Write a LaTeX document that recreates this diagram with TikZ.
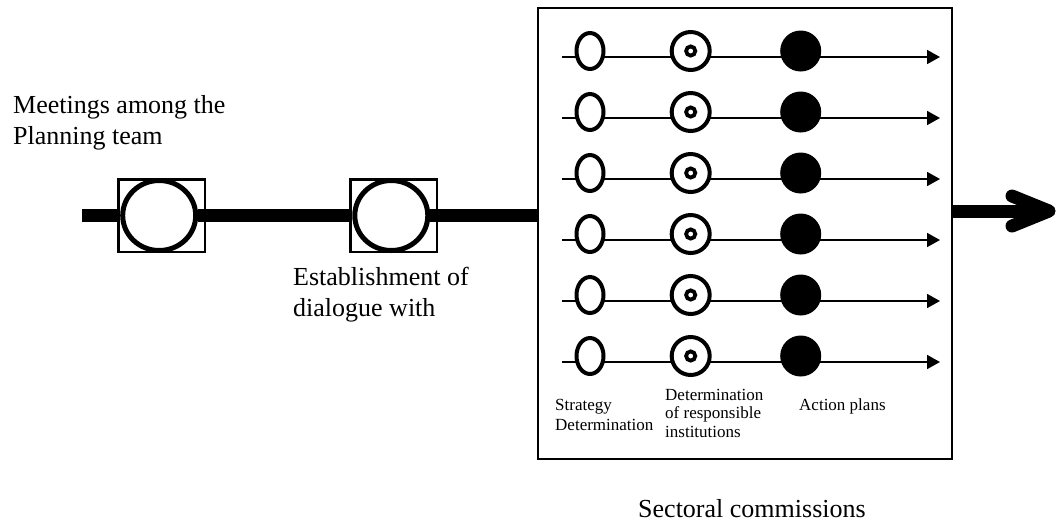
\documentclass[tikz,border=0pt]{standalone}
\usepackage{fontspec}
\setmainfont{Liberation Serif}
\usetikzlibrary{arrows.meta,shapes.geometric,backgrounds}

\begin{document}
\begin{tikzpicture}[x=1pt,y=-1pt,
  bigtext/.style={font=\fontsize{26}{31}\selectfont, inner sep=0pt, anchor=base west},
  smalltext/.style={inner sep=0pt, anchor=base west},
  stagebox/.style={draw, line width=2.5pt, minimum width=86.5pt, minimum height=72.5pt, inner sep=0pt},
  stageoval/.style={ellipse, draw, line width=5pt, fill=white, minimum width=73pt, minimum height=70pt, inner sep=0pt},
  mainline/.style={line width=13pt},
  panelbox/.style={draw, line width=2pt, minimum width=414pt, minimum height=451pt, inner sep=0pt},
  openoval/.style={ellipse, draw, line width=4pt, fill=white, minimum width=27pt, minimum height=36pt, inner sep=0pt},
  ringouter/.style={circle, draw, line width=4pt, fill=white, minimum size=38pt, inner sep=0pt},
  ringinner/.style={circle, draw, line width=3.8pt, minimum size=9.2pt, inner sep=0pt},
  solidcirc/.style={circle, fill=black, minimum size=41pt, inner sep=0pt},
  rowline/.style={line width=1.8pt, -{Triangle[length=13pt,width=14pt]}},
  bigarrow/.style={line width=13pt, line cap=round, line join=round}
]
\useasboundingbox (0,0) rectangle (1058,523);

% planning stages on the main line
\node[stagebox] (b1) at (161.5,215.5) {};
\node[stageoval] (e1) at (159.2,215.5) {};
\node[stagebox] (b2) at (393.8,215.5) {};
\node[stageoval] (e2) at (391.3,215.5) {};

% sectoral commissions panel
\node[panelbox] (panel) at (745,233.5) {};

\coordinate (start) at (82,215.5);
\coordinate (tip) at (1049,211);

\begin{scope}[on background layer]
  \draw[mainline] (start) -- (start -| e1.west);
  \draw[mainline] (e1.east) -- (e2.west);
  \draw[mainline] (e2.east) -- (e2.east -| panel.west);
\end{scope}

% outgoing arrow
\draw[line width=13pt] (tip -| panel.east) -- ([xshift=-4pt]tip);
\draw[bigarrow] ([shift={(-37,-15)}]tip) -- (tip) -- ([shift={(-37,15)}]tip);

% six parallel commission tracks
\foreach \i in {0,...,5}{
  \pgfmathsetmacro{\ry}{57+61*\i}
  \coordinate (rs\i) at (562,\ry);
  \coordinate (re\i) at (940,\ry);
  \node[openoval] (o\i) at (590,\ry-6) {};
  \node[ringouter] (t\i) at (690.7,\ry-6) {};
  \node[ringinner] (ti\i) at (t\i) {};
  \node[solidcirc] (f\i) at (800.7,\ry-6) {};
  \begin{scope}[on background layer]
    \draw[rowline] (rs\i) -- (re\i);
  \end{scope}
}

% labels
\node[bigtext] (lmeet) at (13,113) {\begin{tabular}[t]{@{}l@{}}Meetings among the\\Planning team\end{tabular}};
\node[bigtext] (ldial) at (293,285) {\begin{tabular}[t]{@{}l@{}}Establishment of\\dialogue with\end{tabular}};
\node[smalltext, font=\fontsize{17}{20}\selectfont] (lstrat) at (555,410) {\begin{tabular}[t]{@{}l@{}}Strategy\\Determination\end{tabular}};
\node[smalltext, font=\fontsize{17}{18.5}\selectfont] (lresp) at (665,400) {\begin{tabular}[t]{@{}l@{}}Determination\\of responsible\\institutions\end{tabular}};
\node[smalltext, font=\fontsize{17}{20}\selectfont] (lact) at (799,410) {Action plans};
\node[bigtext] (lsect) at (638,517) {Sectoral commissions};
\end{tikzpicture}
\end{document}
